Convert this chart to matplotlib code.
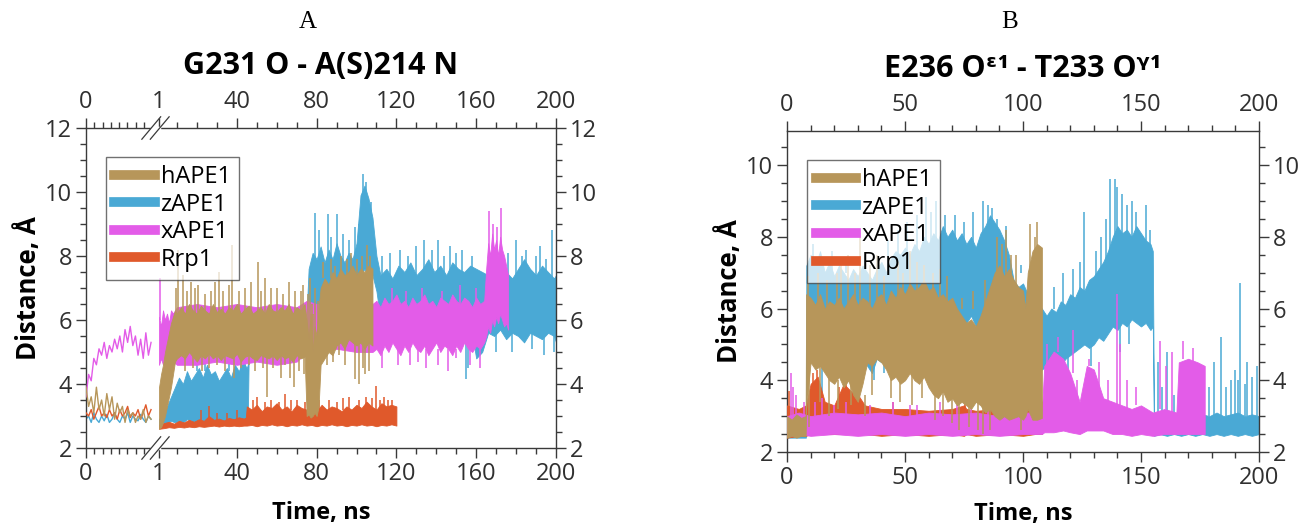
import numpy as np
import matplotlib
matplotlib.use("Agg")
import matplotlib.pyplot as plt
from matplotlib.lines import Line2D
from matplotlib.ticker import FixedLocator, MultipleLocator

plt.rcParams['font.family'] = ['Open Sans', 'DejaVu Sans']

# ---------------------------------------------------------------- panel A data
# equilibration stage (0-1 ns), single noisy traces
a_eq_x = [3.6, 4.3, 4.1, 4.8, 4.6, 5.1, 4.9, 5.3, 4.8, 5.2, 5.0, 5.4, 5.1, 5.5, 5.0, 5.7, 5.3, 5.8, 5.2, 5.5, 4.9, 5.4, 4.8, 5.6, 4.9, 5.3]
a_eq_h = [3.9, 3.3, 3.6, 3.1, 3.9, 3.2, 3.5, 3.0, 3.7, 3.2, 3.6, 2.9, 3.4, 3.1, 3.3, 2.8, 3.2, 3.0, 3.1, 2.8, 3.0, 2.9, 3.2, 2.8, 3.0, 2.9]
a_eq_z = [2.9, 3.0, 2.8, 3.1, 2.9, 2.8, 3.0, 2.85, 3.05, 2.8, 2.9, 3.1, 2.9, 2.8, 3.0, 2.9, 3.1, 2.8, 3.0, 2.9, 2.85, 3.05, 2.9, 2.8, 3.0, 2.9]
a_eq_r = [3.1, 3.0, 3.2, 2.9, 3.1, 3.3, 3.0, 3.1, 2.95, 3.2, 3.0, 3.1, 2.9, 3.2, 3.0, 3.1, 3.3, 2.95, 3.1, 3.0, 3.2, 2.9, 3.1, 3.35, 3.0, 3.2]

# production stage: fluctuation band (low / high) and isolated excursions
ah_t = [1, 2, 3, 4, 5, 6, 7, 8, 9, 10,
        12, 14, 16, 18, 20, 22, 24, 26, 28, 30, 32, 34, 36, 38, 40, 42, 44, 46, 48, 50,
        52, 54, 56, 58, 60, 62, 64, 66, 68, 70, 72, 74,
        75, 76, 77, 78, 79, 80, 81, 82,
        84, 86, 88, 90, 92, 94, 96, 98, 100, 102, 104, 106, 108]
ah_lo = [2.6, 2.65, 2.8, 3.0, 3.3, 3.6, 3.9, 4.3, 4.7, 4.8,
         4.9, 4.8, 5.0, 4.85, 4.7, 4.9, 4.8, 4.95, 4.8, 4.9, 4.75, 4.9, 4.85, 4.8, 4.95, 4.7, 4.85, 4.9, 4.8, 4.75,
         4.9, 4.85, 4.8, 4.9, 4.75, 4.9, 4.8, 4.85, 4.7, 4.9, 4.8, 4.85,
         3.0, 3.05, 2.95, 3.0, 3.1, 3.0, 3.3, 4.6,
         4.8, 5.0, 4.9, 5.2, 5.3, 5.1, 5.4, 5.3, 5.2, 5.3, 5.1, 5.3, 5.2]
ah_hi = [3.9, 4.3, 4.6, 5.0, 5.3, 5.6, 5.9, 6.1, 6.3, 6.2,
         6.4, 6.2, 6.5, 6.3, 6.2, 6.45, 6.3, 6.2, 6.5, 6.25, 6.35, 6.2, 6.4, 6.3, 6.5, 6.2, 6.35, 6.45, 6.2, 6.3,
         6.4, 6.2, 6.5, 6.3, 6.25, 6.4, 6.3, 6.5, 6.2, 6.4, 6.3, 6.5,
         6.0, 5.4, 6.2, 5.0, 5.8, 5.5, 6.4, 7.0,
         7.3, 7.1, 7.5, 7.3, 7.6, 7.4, 7.5, 7.7, 7.4, 7.6, 7.5, 7.7, 7.6]
ah_sp_t = [9.5, 10.5, 13, 15, 17, 19, 20.5, 24, 27, 29, 31, 33, 36, 37.5, 41, 44, 47, 50.5, 52, 54, 57, 60, 63, 66, 69, 72, 73,
           14, 18, 22.6, 26, 30, 34, 38.5, 42, 46, 49, 53, 55, 58, 62, 64, 66.5, 68.5, 71, 73.5,
           75.5, 76.5, 77.5, 78.2, 79, 80.5,
           83, 87, 89, 92, 95, 97, 100, 103, 105.3, 107,
           85, 88, 91, 94, 99, 101, 103.5, 104.5, 106.5]
ah_sp_lo = [6.2] * 27 + \
           [4.4, 4.5, 4.4, 4.5, 4.6, 4.4, 4.2, 4.5, 4.6, 4.4, 4.5, 3.6, 4.5, 4.2, 4.6, 4.2, 3.9, 4.4, 4.3] + \
           [5.0] * 6 + [7.3] * 10 + \
           [4.6, 4.7, 4.9, 4.6, 4.15, 4.0, 4.5, 4.3, 4.4]
ah_sp_hi = [7.0, 8.2, 7.4, 6.9, 7.2, 7.0, 7.1, 6.8, 6.9, 7.2, 7.5, 6.9, 7.1, 8.35, 6.9, 7.0, 7.2, 7.8, 6.9, 7.3, 7.0, 7.0, 6.8, 7.2, 6.9, 6.9, 7.1] + \
           [4.9] * 19 + \
           [6.8, 7.3, 6.5, 6.2, 7.0, 6.6] + \
           [7.8, 7.9, 7.7, 8.0, 7.9, 8.1, 7.9, 8.0, 8.35, 8.0] + \
           [5.3] * 9

az_t = [1, 3, 5, 7, 9, 11, 13, 15, 17, 19, 21, 23, 25, 27, 29, 31, 33, 35, 37, 39, 41, 43, 45, 45.5,
        46, 60, 75,
        76, 78, 80, 82, 84, 86, 88, 90, 92, 94, 96, 98, 100, 102, 104, 106, 108, 110,
        112, 115, 118, 121, 124, 127, 130, 133, 136, 139, 142, 145, 148, 151, 154, 157,
        160, 163, 166, 169, 172, 175, 178, 181, 184, 187, 190, 193, 196, 199, 200]
az_lo = [2.7, 2.75, 2.8, 2.85, 2.8, 2.85, 2.8, 2.9, 2.85, 2.8, 2.9, 2.85, 2.8, 2.9, 2.85, 2.9, 2.8, 2.85, 2.9, 2.85, 2.9, 2.85, 2.9, 2.9,
         5.0, 5.0, 5.1,
         6.2, 6.3, 6.5, 6.4, 6.6, 6.5, 6.7, 6.6, 6.8, 6.7, 6.9, 6.8, 7.0, 7.4, 7.6, 7.3, 7.4, 6.9,
         6.0, 6.1, 6.0, 5.9, 6.0, 6.1, 6.0, 5.9, 6.0, 6.1, 6.0, 5.9, 6.0, 6.1, 6.0, 5.9,
         4.8, 5.0, 5.6, 5.5, 5.7, 5.4, 5.6, 5.5, 5.3, 5.6, 5.5, 5.4, 5.6, 5.5, 5.3]
az_hi = [2.9, 3.1, 3.3, 3.6, 3.9, 4.2, 4.0, 4.4, 4.1, 4.3, 4.5, 4.2, 4.6, 4.3, 4.4, 4.1, 4.3, 4.5, 4.2, 4.6, 4.4, 4.7, 4.5, 4.6,
         6.0, 6.0, 6.2,
         7.6, 8.1, 7.9, 8.3, 7.8, 8.2, 7.9, 8.4, 8.0, 7.8, 8.1, 7.9, 8.4, 9.9, 10.2, 9.8, 9.2, 8.0,
         7.4, 7.6, 7.3, 7.7, 7.5, 7.8, 7.4, 7.6, 7.9, 7.5, 7.7, 7.4, 7.8, 7.6, 7.5, 7.7,
         7.6, 7.5, 7.4, 7.6, 7.8, 7.5, 7.3, 7.6, 7.9, 7.6, 7.4, 7.7, 7.5, 7.3, 7.4]
az_sp_t = [20, 24, 36, 42, 44,
           79, 81, 85.5, 87, 90, 93, 96, 99, 101, 103.5, 105, 107.5,
           113, 117, 122, 126, 130, 134, 138, 141, 144, 147, 150, 153, 158,
           176, 180, 183, 185, 190, 192, 195, 198,
           155, 156, 170, 178, 188, 194, 199]
az_sp_lo = [4.4, 4.4, 4.4, 4.4, 4.4,
            7.5, 7.5, 7.5, 7.5, 7.5, 7.5, 7.5, 7.5, 7.5, 9.5, 9.5, 9.0,
            7.3, 7.3, 7.3, 7.3, 7.3, 7.3, 7.3, 7.3, 7.3, 7.3, 7.3, 7.3, 7.3,
            7.3, 7.3, 7.3, 7.3, 7.3, 7.3, 7.3, 7.3,
            4.15, 4.5, 5.0, 5.0, 5.1, 4.9, 5.0]
az_sp_hi = [4.9, 4.8, 4.9, 4.9, 5.0,
            9.35, 8.8, 9.3, 8.6, 9.3, 8.7, 8.5, 8.9, 9.0, 10.55, 10.3, 9.7,
            8.0, 8.1, 8.2, 8.0, 8.3, 8.5, 8.2, 8.5, 8.0, 8.3, 8.1, 8.2, 8.0,
            8.1, 8.5, 8.0, 8.2, 8.0, 8.3, 7.9, 8.8,
            6.0, 6.0, 5.6, 5.6, 5.6, 5.6, 5.6]

ax_t = [1, 2, 3, 4, 5, 6, 7, 8, 10, 20, 30, 40, 50, 60, 70, 75, 80, 90, 100, 108,
        110, 112, 114, 116, 118, 120, 122, 124, 126, 128, 130, 132, 134, 136, 138, 140,
        142, 144, 146, 148, 150, 152, 154, 156, 158, 160, 162, 164,
        165, 166, 167, 168, 169, 170, 171, 172, 173, 174, 175, 176]
ax_lo = [4.6, 4.8, 4.6, 4.9, 4.7, 4.8, 4.6, 4.7, 4.6, 4.6, 4.7, 4.6, 4.7, 4.6, 4.7, 5.0, 5.0, 5.1, 5.0, 5.0,
         5.1, 4.9, 5.2, 5.0, 5.3, 5.1, 4.9, 5.2, 5.0, 5.3, 5.1, 5.0, 5.2, 4.9, 5.1, 5.3,
         5.0, 5.2, 5.1, 4.9, 5.2, 5.0, 5.3, 5.1, 5.0, 5.2, 5.1, 5.3,
         5.5, 5.8, 5.6, 6.0, 5.8, 6.1, 5.9, 6.2, 6.0, 5.8, 5.9, 5.7]
ax_hi = [6.1, 5.8, 6.3, 6.0, 6.2, 5.9, 6.3, 6.2, 6.4, 6.5, 6.4, 6.5, 6.4, 6.5, 6.4, 6.6, 6.5, 6.4, 6.5, 6.5,
         6.6, 6.4, 6.7, 6.5, 6.6, 6.8, 6.5, 6.6, 6.4, 6.7, 6.5, 6.6, 6.8, 6.5, 6.6, 6.4,
         6.7, 6.6, 6.5, 6.8, 6.6, 6.5, 6.7, 6.6, 6.4, 6.7, 6.5, 6.6,
         7.6, 8.4, 8.0, 8.7, 8.2, 8.5, 8.0, 8.6, 8.2, 8.0, 7.7, 7.4]
ax_sp_t = [1.5, 113, 121, 127, 131, 135, 141, 146, 150, 157, 162,
           118, 125, 133, 143, 152, 160, 166.5, 168.5, 170.5, 172.5]
ax_sp_lo = [6.0, 4.5, 4.6, 4.6, 4.7, 4.5, 4.6, 4.4, 4.8, 4.6, 4.5,
            6.5, 6.5, 6.5, 6.5, 6.5, 6.5, 8.0, 8.0, 8.0, 8.0]
ax_sp_hi = [7.3, 5.1, 5.1, 5.1, 5.1, 5.1, 5.1, 5.1, 5.1, 5.1, 5.1,
            7.0, 6.9, 7.0, 6.9, 7.1, 7.0, 9.4, 9.0, 8.9, 9.5]

ar_t = [1, 3.5, 6, 8.5, 11, 13.5, 16, 18.5, 21, 23.5, 26, 28.5, 31, 33.5, 36, 38.5, 41, 43.5, 44.5,
        45, 47.5, 50, 52.5, 55, 57.5, 60, 62.5, 65, 67.5, 70, 72.5, 75, 77.5, 80, 82.5, 85, 87.5, 90,
        92.5, 95, 97.5, 100, 102.5, 105, 107.5, 110, 112.5, 115, 117.5, 120]
ar_lo = [2.6, 2.62, 2.65, 2.63, 2.66, 2.64, 2.67, 2.65, 2.68, 2.66, 2.68, 2.7, 2.67, 2.7, 2.68, 2.7, 2.68, 2.7, 2.7,
         2.7, 2.72, 2.68, 2.72, 2.7, 2.74, 2.7, 2.72, 2.68, 2.72, 2.7, 2.74, 2.7, 2.72, 2.68, 2.72, 2.7, 2.74, 2.7,
         2.72, 2.68, 2.72, 2.7, 2.74, 2.7, 2.72, 2.68, 2.72, 2.7, 2.74, 2.7]
ar_hi = [2.72, 2.78, 2.82, 2.76, 2.85, 2.8, 2.88, 2.82, 2.9, 2.85, 3.0, 2.88, 2.92, 2.86, 2.94, 2.9, 2.96, 2.92, 2.95,
         3.3, 3.2, 3.35, 3.15, 3.3, 3.25, 3.4, 3.2, 3.3, 3.15, 3.35, 3.25, 3.2, 3.3, 3.15, 3.35, 3.2, 3.3, 3.25,
         3.15, 3.3, 3.2, 3.35, 3.25, 3.45, 3.3, 3.2, 3.4, 3.3, 3.35, 3.3]
ar_sp_t = [22, 26, 30, 35, 40,
           48, 50, 54, 57, 61, 64, 67, 70, 74, 81, 86, 90, 93, 96, 101, 105, 108, 110, 112, 114, 116, 118]
ar_sp_lo = [2.85] * 5 + [3.2] * 22
ar_sp_hi = [3.2, 3.3, 3.1, 3.1, 3.2,
            3.5, 3.6, 3.45, 3.5, 3.45, 3.7, 3.5, 3.5, 3.45, 3.5, 3.5, 3.45, 3.55, 3.6, 3.5, 3.6, 3.55, 3.95, 3.5, 3.6, 3.5, 3.5]

# ---------------------------------------------------------------- panel B data
bh_t = [0, 2, 4, 6, 7.9, 8.1,
        10, 12, 14, 16, 18, 20, 22, 24, 26, 28, 30, 32, 34, 36, 38, 40, 42, 44, 46, 48,
        50, 52, 54, 56, 58, 60, 62, 64, 66, 68, 70, 72, 74, 76, 78, 80, 82, 84, 86, 88,
        90, 92, 94, 96, 98, 100, 101, 102, 104, 106, 108]
bh_lo = [2.4, 2.45, 2.4, 2.45, 2.45, 3.2,
         4.5, 4.3, 4.4, 4.2, 4.0, 3.9, 4.1, 3.8, 4.0, 3.6, 3.4, 3.9, 4.5, 4.4, 4.6, 4.5, 4.3, 4.0, 4.1, 3.9,
         4.0, 4.2, 4.0, 3.9, 4.1, 3.8, 3.6, 3.5, 3.7, 3.4, 3.5, 3.3, 3.4, 3.3, 3.2, 3.4, 3.3, 3.1, 3.2, 3.0,
         2.9, 3.0, 2.9, 2.95, 3.0, 2.9, 3.0, 3.2, 2.9, 2.9, 2.95]
bh_hi = [3.0, 2.9, 3.05, 2.95, 3.0, 6.4,
         6.3, 6.1, 6.4, 6.0, 6.2, 6.1, 6.3, 6.0, 6.2, 6.4, 6.1, 6.3, 6.2, 6.0, 6.3, 6.4, 6.1, 6.5, 6.3, 6.6,
         6.4, 6.7, 6.5, 6.6, 6.8, 6.5, 6.6, 6.3, 6.4, 6.2, 6.3, 6.0, 5.8, 5.6, 5.7, 5.5, 5.8, 6.2, 6.6, 7.0,
         7.2, 6.9, 7.1, 6.8, 6.6, 6.5, 6.0, 7.0, 7.6, 7.8, 7.7]
bh_sp_t = [9, 13, 17, 21, 23, 26, 29, 31, 35, 38, 41, 47, 49, 52, 55, 58, 62, 65, 68, 74, 79, 84, 89, 91, 93, 95, 97, 103, 105, 106,
           9.5, 14, 18, 21.5, 27, 33, 36, 44, 48, 53, 57, 62.5, 66, 70, 73, 77, 81, 83, 86, 99]
bh_sp_lo = [6.0] * 30 + \
           [2.7, 3.4, 3.0, 3.2, 3.3, 3.0, 3.6, 3.5, 3.4, 3.3, 3.5, 2.9, 3.0, 2.8, 2.6, 2.7, 2.6, 2.5, 2.6, 2.6]
bh_sp_hi = [6.9, 7.0, 6.8, 7.0, 7.2, 7.5, 7.0, 8.1, 7.2, 7.5, 6.9, 7.3, 7.0, 7.6, 7.3, 7.2, 7.0, 7.1, 6.9, 6.3,
            6.5, 6.8, 8.0, 7.8, 8.2, 7.5, 7.5, 8.35, 8.0, 8.4] + \
           [4.6, 4.4, 4.2, 4.0, 4.0, 3.6, 4.5, 4.2, 4.0, 4.2, 4.0, 3.8, 3.7, 3.5, 3.4, 3.4, 3.4, 3.3, 3.3, 3.1]

bz_t = [0, 8, 8.2,
        10, 12, 14, 16, 18, 20, 22, 24, 26, 28, 30, 32, 34, 36, 38, 40, 42, 44, 46, 48,
        50, 52, 54, 56, 58, 60, 62, 64, 66, 68, 70, 72, 74, 76, 78, 80, 82, 84, 86, 88,
        90, 92, 94, 96, 98, 100, 102, 104, 106, 108, 110, 112, 114, 116, 118, 120, 122, 124, 126, 128,
        130, 132, 134, 136, 138, 140, 142, 144, 146, 148, 150, 152, 154, 155,
        155.5, 158, 161, 164, 167, 170, 173, 176, 179, 182, 185, 188, 191, 194, 197, 200]
bz_lo = [2.4, 2.4, 4.6,
         4.9, 5.1, 4.6, 4.8, 4.4, 4.7, 4.5, 4.8, 4.3, 4.6, 4.5, 4.8, 4.4, 4.2, 4.6, 4.5, 4.8, 4.7, 5.0, 5.2,
         5.1, 5.3, 5.0, 5.2, 5.4, 5.1, 5.3, 5.5, 5.4, 5.6, 5.5, 5.7, 5.4, 5.6, 5.8, 5.5, 5.7, 5.6, 5.8, 5.6,
         5.5, 5.0, 4.5, 3.8, 3.6, 3.8, 4.0, 4.1, 4.2, 4.3, 4.4, 4.3, 4.5, 4.4, 4.6, 4.7, 4.8, 4.9, 5.0, 4.9,
         5.0, 5.2, 5.1, 5.3, 5.5, 5.4, 5.6, 5.5, 5.7, 5.6, 5.5, 5.6, 5.4, 5.5,
         2.45, 2.5, 2.45, 2.5, 2.45, 2.5, 2.45, 2.5, 2.45, 2.5, 2.45, 2.5, 2.45, 2.5, 2.45, 2.5]
bz_hi = [2.9, 2.9, 7.2,
         7.5, 7.2, 7.6, 7.0, 7.3, 6.9, 7.2, 7.0, 6.8, 7.1, 6.9, 7.2, 7.0, 6.8, 7.1, 7.3, 7.0, 7.4, 7.6, 7.5,
         7.7, 7.5, 7.8, 7.6, 8.0, 7.8, 8.1, 7.9, 8.3, 8.0, 8.2, 7.9, 8.1, 7.8, 8.0, 7.7, 8.1, 8.3, 8.6, 8.4,
         8.2, 7.9, 7.5, 6.8, 6.6, 6.7, 6.4, 6.0, 6.2, 6.0, 5.8, 6.0, 5.9, 6.2, 6.1, 6.4, 6.3, 6.6, 6.5, 6.8,
         6.9, 7.1, 7.3, 7.6, 8.0, 8.3, 8.1, 8.2, 8.0, 8.3, 8.1, 7.9, 7.8, 7.6,
         3.0, 3.1, 2.95, 3.05, 3.0, 3.1, 2.95, 3.05, 3.0, 3.1, 3.0, 3.05, 3.1, 3.0, 3.05, 3.0]
bz_sp_t = [11, 19, 25, 33, 43, 47, 51, 55, 59, 61, 63, 67, 71, 75, 79, 83, 85, 87, 89, 93, 99,
           113, 117, 121, 124, 126, 131, 133, 135, 137, 139, 140, 142, 144, 146, 148, 152, 154,
           15, 27, 37, 41, 57, 65, 73, 81, 119, 129, 141, 145,
           157, 159, 161, 164, 168, 171, 173, 176, 179, 181, 184, 186, 188, 190, 191, 192, 194, 195, 197, 199]
bz_sp_lo = [7.0] * 21 + [6.0] * 17 + \
           [3.6, 4.0, 4.0, 4.2, 4.6, 4.8, 5.0, 4.9, 4.0, 4.4, 4.8, 5.0] + [3.0] * 20
bz_sp_hi = [7.8, 7.6, 7.4, 7.5, 7.9, 8.2, 8.4, 8.6, 9.1, 8.7, 9.0, 8.6, 8.6, 8.4, 8.7, 9.0, 8.9, 8.8, 8.5, 8.3, 7.2,
            6.6, 7.0, 7.1, 7.3, 8.7, 7.6, 8.0, 8.5, 9.6, 9.6, 9.4, 9.2, 8.9, 9.0, 8.7, 8.9, 8.2] + \
           [5.0, 5.0, 5.0, 5.0, 5.4, 5.6, 5.8, 5.8, 5.0, 5.2, 5.8, 5.8] + \
           [4.5, 3.8, 4.8, 3.6, 3.8, 3.6, 4.2, 3.5, 3.8, 4.5, 5.2, 3.8, 4.0, 4.3, 4.0, 6.7, 3.9, 4.5, 4.1, 4.4]

bx_t = [0, 5, 10, 20, 30, 40, 50, 60, 70, 80, 90, 100, 108, 109, 113, 117, 120, 124, 127, 130, 134, 138, 142, 146, 150, 155, 160, 165, 166, 170, 174, 177]
bx_lo = [2.45, 2.5, 2.45, 2.5, 2.45, 2.5, 2.45, 2.5, 2.45, 2.5, 2.45, 2.5, 2.5, 2.55, 2.55, 2.6, 2.55, 2.5, 2.6, 2.6, 2.6, 2.5, 2.5, 2.45, 2.5, 2.45, 2.5, 2.5, 2.5, 2.5, 2.5, 2.5]
bx_hi = [3.0, 3.1, 3.0, 3.1, 3.05, 3.1, 3.0, 3.1, 3.05, 3.1, 3.0, 3.1, 3.1, 4.4, 4.8, 4.6, 4.2, 3.4, 4.4, 4.3, 3.5, 3.4, 3.3, 3.2, 3.3, 3.1, 3.2, 3.1, 4.5, 4.6, 4.5, 4.4]
bx_sp_t = [1.5, 2.5, 4, 7, 12, 15, 20, 25, 35, 45, 52, 55, 65, 72, 78, 85, 92, 97, 103,
           110, 115, 121, 123, 128, 132, 136, 140, 141, 144, 148, 158, 160.5, 163, 168, 172]
bx_sp_lo = [3.0] * 19 + \
           [4.4, 4.8, 4.2, 3.4, 4.4, 3.5, 3.4, 3.3, 3.3, 3.2, 3.3, 3.2, 3.2, 3.1, 4.6, 4.5]
bx_sp_hi = [4.2, 3.8, 3.6, 3.4, 3.4, 3.5, 3.3, 3.4, 3.3, 3.4, 3.3, 3.3, 3.4, 3.3, 3.5, 3.4, 3.3, 3.5, 3.4,
            5.0, 5.2, 5.4, 4.0, 4.6, 4.5, 4.0, 6.4, 5.0, 4.0, 3.8, 5.1, 4.4, 4.8, 5.1, 4.9]

br_t = [0, 5, 8, 10, 13, 16, 20, 24, 27, 30, 33, 40, 50, 60, 70, 75, 76, 80, 90, 100, 105, 107, 108]
br_lo = [2.4, 2.45, 2.45, 2.5, 2.5, 2.5, 2.5, 2.5, 2.5, 2.5, 2.5, 2.45, 2.5, 2.45, 2.5, 2.45, 2.5, 2.45, 2.5, 2.45, 2.5, 2.5, 2.5]
br_hi = [3.3, 3.2, 3.3, 3.9, 4.1, 3.4, 3.3, 3.9, 3.7, 3.6, 3.3, 3.2, 3.2, 3.15, 3.2, 3.3, 3.2, 3.15, 3.2, 3.15, 3.3, 3.5, 3.4]
br_sp_t = [1, 11, 12.5, 22, 25, 29, 45, 75.5]
br_sp_lo = [3.0, 3.5, 3.5, 3.3, 3.5, 3.3, 3.1, 3.0]
br_sp_hi = [3.7, 4.2, 4.3, 3.8, 4.2, 3.9, 3.4, 3.4]

# ---------------------------------------------------------------- style
names = ['hAPE1', 'zAPE1', 'xAPE1', 'Rrp1']
colors = {'hAPE1': '#B7965A', 'zAPE1': '#4AA9D5', 'xAPE1': '#E35CE8', 'Rrp1': '#E0592B'}
layer = {'zAPE1': 2, 'Rrp1': 3, 'xAPE1': 4, 'hAPE1': 5}
INK = '#3a3a3a'
TICK_FS = 17

fig = plt.figure(figsize=(13.04, 5.28), dpi=100)
axA = fig.add_axes([86 / 1304, 80 / 528, 470 / 1304, 320 / 528])
axB = fig.add_axes([787 / 1304, 76 / 528, 472 / 1304, 321 / 528])

# broken time axis for panel A: 0-1 ns stretched, then 1-200 ns
EQ_W, GAP = 33.1, 3.5


def fwd(t):
    t = np.asarray(t, dtype=float)
    return np.where(t < 1, t * EQ_W, EQ_W + GAP + (t - 1))


def inv(u):
    u = np.asarray(u, dtype=float)
    return np.where(u < EQ_W, u / EQ_W,
                    np.where(u < EQ_W + GAP, 1.0, u - EQ_W - GAP + 1))


axA.set_xscale('function', functions=(fwd, inv))


def draw(ax, name, t, lo, hi, st, slo, shi):
    c = colors[name]
    z = layer[name]
    ax.fill_between(t, lo, hi, color=c, lw=0.6, zorder=z)
    ax.vlines(st, slo, shi, color=c, lw=1.1, zorder=z)


eq_t = np.linspace(0, 0.985, len(a_eq_x))
for name, vals in [('zAPE1', a_eq_z), ('Rrp1', a_eq_r), ('hAPE1', a_eq_h), ('xAPE1', a_eq_x)]:
    axA.plot(eq_t, vals, color=colors[name], lw=1.0, zorder=layer[name])

draw(axA, 'zAPE1', az_t, az_lo, az_hi, az_sp_t, az_sp_lo, az_sp_hi)
draw(axA, 'Rrp1', ar_t, ar_lo, ar_hi, ar_sp_t, ar_sp_lo, ar_sp_hi)
draw(axA, 'xAPE1', ax_t, ax_lo, ax_hi, ax_sp_t, ax_sp_lo, ax_sp_hi)
draw(axA, 'hAPE1', ah_t, ah_lo, ah_hi, ah_sp_t, ah_sp_lo, ah_sp_hi)

draw(axB, 'zAPE1', bz_t, bz_lo, bz_hi, bz_sp_t, bz_sp_lo, bz_sp_hi)
draw(axB, 'Rrp1', br_t, br_lo, br_hi, br_sp_t, br_sp_lo, br_sp_hi)
draw(axB, 'xAPE1', bx_t, bx_lo, bx_hi, bx_sp_t, bx_sp_lo, bx_sp_hi)
draw(axB, 'hAPE1', bh_t, bh_lo, bh_hi, bh_sp_t, bh_sp_lo, bh_sp_hi)

# axes limits and ticks
a_major = [0, 1, 40, 80, 120, 160, 200]
a_minor = [0.125, 0.25, 0.375, 0.5, 0.625, 0.75, 0.875] + \
          [v for v in range(10, 200, 10) if v % 40]
axA.set_xlim(0, 200)
axA.set_ylim(2, 12)
axA.xaxis.set_major_locator(FixedLocator(a_major))
axA.xaxis.set_minor_locator(FixedLocator(a_minor))
axA.set_xticklabels([str(v) for v in a_major])
axA.yaxis.set_major_locator(MultipleLocator(2))
axA.yaxis.set_minor_locator(MultipleLocator(0.5))

axB.set_xlim(0, 200)
axB.set_ylim(2, 10.95)
axB.xaxis.set_major_locator(MultipleLocator(50))
axB.xaxis.set_minor_locator(MultipleLocator(10))
axB.yaxis.set_major_locator(FixedLocator([2, 4, 6, 8, 10]))
axB.yaxis.set_minor_locator(MultipleLocator(0.5))

for ax, xpad in ((axA, 11), (axB, 8.5)):
    ax.tick_params(which='both', direction='out', top=True, right=True,
                   labeltop=True, labelright=True, color=INK, width=1.0,
                   labelsize=TICK_FS, labelcolor='#303030')
    ax.tick_params(which='major', length=7, pad=3)
    ax.tick_params(which='minor', length=4.5)
    for sp in ax.spines.values():
        sp.set_color(INK)
        sp.set_linewidth(1.0)
    ax.set_xlabel('Time, ns', fontsize=17, fontweight='bold', labelpad=xpad)
    ax.set_ylabel('Distance, Å', fontsize=18.5, fontweight='bold', labelpad=2)
    handles = [Line2D([], [], color=colors[n], lw=7) for n in names]
    leg = ax.legend(handles, names, loc='upper left', fontsize=17,
                    bbox_to_anchor=(0.043, 0.91), borderaxespad=0,
                    handlelength=1.7, handletextpad=0.25, labelspacing=0.15,
                    borderpad=0.35, fancybox=False, framealpha=0.72,
                    edgecolor=INK)
    leg.get_frame().set_linewidth(1.0)
    leg.set_zorder(10)

# break marks on the panel A time axis
brk_x = (fwd(0.999) + fwd(1.0)) / 2
brk_u = brk_x / fwd(200)
for yv in (0, 1):
    axA.plot([brk_u - 0.008, brk_u + 0.008], [yv, yv], transform=axA.transAxes,
             color='white', lw=2.5, clip_on=False, zorder=20)
    for off in (-0.009, 0.009):
        axA.plot([brk_u + off - 0.02, brk_u + off + 0.02], [yv - 0.035, yv + 0.035],
                 transform=axA.transAxes, color=INK, lw=0.9, clip_on=False, zorder=21)

axA.set_title('G231 O - A(S)214 N', fontsize=22, fontweight='bold', pad=39)
axB.set_title('E236 Oᵋ¹ - T233 Oᵞ¹', fontsize=22, fontweight='bold', pad=39)
fig.text(308 / 1304, 1 - 22 / 528, 'A', ha='center', va='center',
         fontsize=18, family='Liberation Serif')
fig.text(1010 / 1304, 1 - 22 / 528, 'B', ha='center', va='center',
         fontsize=18, family='Liberation Serif')

fig.savefig('out.png', dpi=100, facecolor='white')
